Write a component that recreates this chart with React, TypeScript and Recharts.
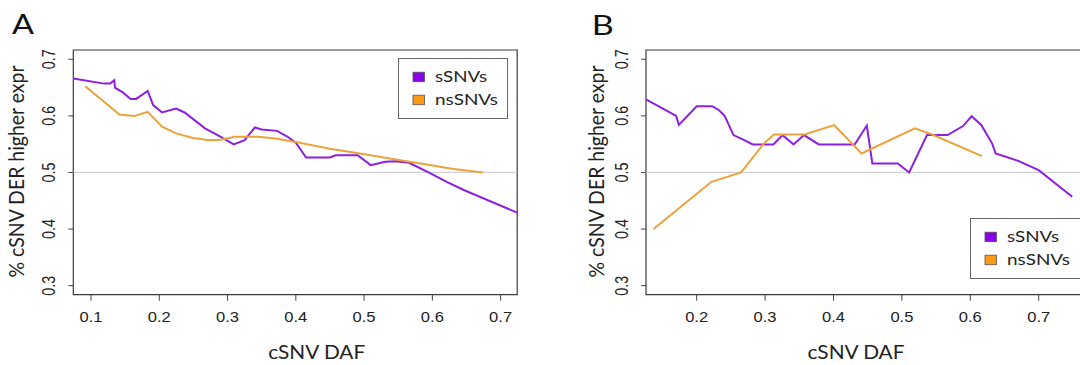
import React from 'react';
import { LineChart, Line, XAxis, YAxis, ReferenceLine, ReferenceArea, Legend } from 'recharts';

// Panel A data
const aSynX = [0.074, 0.119, 0.128, 0.134, 0.135, 0.147, 0.158, 0.166, 0.183, 0.191, 0.204, 0.2245, 0.237, 0.267, 0.29, 0.309, 0.325, 0.34, 0.35, 0.3725, 0.388, 0.4, 0.415, 0.45, 0.458, 0.4906, 0.5096, 0.531, 0.546, 0.566, 0.598, 0.621, 0.646, 0.7243];
const aSynY = [0.666, 0.657, 0.657, 0.663, 0.65, 0.641, 0.63, 0.63, 0.644, 0.619, 0.606, 0.613, 0.606, 0.578, 0.563, 0.5495, 0.557, 0.5795, 0.576, 0.5735, 0.563, 0.5525, 0.5265, 0.5265, 0.5305, 0.5305, 0.513, 0.519, 0.52, 0.517, 0.498, 0.4835, 0.469, 0.429];
const aNonX = [0.0915, 0.1417, 0.164, 0.183, 0.204, 0.2245, 0.2496, 0.2737, 0.29, 0.31, 0.345, 0.37, 0.4, 0.45, 0.5006, 0.551, 0.596, 0.631, 0.674];
const aNonY = [0.6525, 0.6025, 0.6, 0.607, 0.581, 0.569, 0.561, 0.557, 0.558, 0.563, 0.563, 0.56, 0.554, 0.542, 0.532, 0.522, 0.513, 0.506, 0.5];

// Panel B data
const bSynX = [0.1259, 0.17, 0.174, 0.2, 0.2226, 0.2327, 0.241, 0.2538, 0.268, 0.282, 0.312, 0.3256, 0.3417, 0.3568, 0.3784, 0.431, 0.4487, 0.4568, 0.494, 0.5106, 0.5367, 0.5668, 0.5894, 0.602, 0.616, 0.632, 0.637, 0.67, 0.7, 0.749];
const bSynY = [0.629, 0.6, 0.584, 0.617, 0.617, 0.61, 0.5995, 0.566, 0.558, 0.5495, 0.5495, 0.566, 0.5495, 0.566, 0.5495, 0.5495, 0.583, 0.516, 0.516, 0.5, 0.566, 0.566, 0.582, 0.5995, 0.584, 0.551, 0.5335, 0.5205, 0.504, 0.457];
const bNonX = [0.137, 0.2216, 0.265, 0.298, 0.313, 0.358, 0.401, 0.441, 0.519, 0.544, 0.617];
const bNonY = [0.4, 0.4835, 0.5, 0.551, 0.567, 0.567, 0.5836, 0.5335, 0.578, 0.567, 0.529];

const xTicksA = [0.1, 0.2, 0.3, 0.4, 0.5, 0.6, 0.7];
const xTicksB = [0.2, 0.3, 0.4, 0.5, 0.6, 0.7];
const yTicks = [0.3, 0.4, 0.5, 0.6, 0.7];
const xDomainA = [0.074, 0.7243];
const xDomainB = [0.1259, 0.775];
const yDomain = [0.284, 0.7164];
const refValue = 0.5;

const seriesNames = ['sSNVs', 'nsSNVs'];
const legendTextLen = [52, 63];
const lineColors = ['#8E1FDF', '#ECA23A'];
const swatchColors = ['#8A00E8', '#FF9A14'];
const xTitle = 'cSNV DAF';
const yTitle = '% cSNV DER higher expr';

const zip = (xs: number[], ys: number[]) => xs.map((x, i) => ({ x, y: ys[i] }));

const TICK_FONT = '"Liberation Sans", Arial, sans-serif';
const TITLE_FONT = 'Lato, "Open Sans", sans-serif';

const XTick = (props: any) => {
  const { x, y, payload } = props;
  return (
    <text x={x} y={y} dy="0.71em" textAnchor="middle" fontFamily={TICK_FONT} fontSize={15} fill="#222"
      textLength={23} lengthAdjust="spacingAndGlyphs">
      {payload.value.toFixed(1)}
    </text>
  );
};

const YTick = (props: any) => {
  const { x, y, payload } = props;
  return (
    <text x={0} y={0} transform={`translate(${x}, ${y}) rotate(-90) scale(1, 1.2)`} textAnchor="middle"
      fontFamily={TICK_FONT} fontSize={15} fill="#222" textLength={20} lengthAdjust="spacingAndGlyphs">
      {payload.value.toFixed(1)}
    </text>
  );
};

const LegendBox = (props: any) => {
  const { w } = props;
  return (
    <svg width={w} height={62} style={{ display: 'block', overflow: 'visible' }}>
      <rect x={0.5} y={0.5} width={w - 1} height={60} fill="#fff" stroke="#666" strokeWidth={1} />
      {seriesNames.map((name, i) => {
        const cy = 18.7 + i * 23;
        return (
          <g key={name}>
            <rect x={15} y={cy - 4.5} width={11.5} height={9.5} fill={swatchColors[i]} stroke="#555" strokeWidth={0.8} />
            <text x={37} y={cy + 5.2} fontFamily={TITLE_FONT} fontSize={14.5} fill="#222"
              textLength={legendTextLen[i]} lengthAdjust="spacingAndGlyphs">{name}</text>
          </g>
        );
      })}
    </svg>
  );
};

type PanelProps = {
  width: number;
  yAxisWidth: number;
  rightMargin: number;
  xDomain: number[];
  xTicks: number[];
  syn: { x: number; y: number }[];
  non: { x: number; y: number }[];
  letter: string;
  letterX: number;
  letterY: number;
  yTitleX: number;
  xTitleX: number;
  legendLeft: number;
  legendTop: number;
  legendWidth: number;
};

const Panel = (p: PanelProps) => (
  <LineChart width={p.width} height={365} margin={{ top: 50, right: p.rightMargin, bottom: 0, left: 0 }}>
    <XAxis type="number" dataKey="x" domain={p.xDomain} ticks={p.xTicks} allowDataOverflow
      height={70.3} tickSize={6} tickMargin={11} axisLine={false} tickLine={{ stroke: '#444' }}
      tick={XTick} interval={0} />
    <YAxis type="number" dataKey="y" domain={yDomain} ticks={yTicks} allowDataOverflow
      width={p.yAxisWidth} tickSize={5} tickMargin={13} axisLine={false} tickLine={{ stroke: '#444' }}
      tick={YTick} interval={0} />
    <ReferenceLine y={refValue} stroke="#d2d2d2" strokeWidth={1.3} ifOverflow="hidden" />
    <Line type="linear" data={p.syn} dataKey="y" name={seriesNames[0]} stroke={lineColors[0]} strokeWidth={2}
      dot={false} isAnimationActive={false} />
    <Line type="linear" data={p.non} dataKey="y" name={seriesNames[1]} stroke={lineColors[1]} strokeWidth={2}
      dot={false} isAnimationActive={false} />
    <ReferenceArea x1={p.xDomain[0]} x2={p.xDomain[1]} y1={yDomain[0]} y2={yDomain[1]} fill="none"
      fillOpacity={0} stroke="#3a3a3a" strokeWidth={1.2} ifOverflow="visible" />
    <Legend layout="horizontal" verticalAlign="middle" align="center"
      wrapperStyle={{ left: p.legendLeft, top: p.legendTop, width: p.legendWidth, height: 62, margin: 0, padding: 0 }}
      content={() => <LegendBox w={p.legendWidth} />} />
    <text x={p.letterX} y={p.letterY} fontFamily={TITLE_FONT} fontSize={27} fill="#111" textLength={22}
      lengthAdjust="spacingAndGlyphs">{p.letter}</text>
    <text x={p.xTitleX} y={358.5} textAnchor="middle" fontFamily={TITLE_FONT} fontSize={20} fill="#222"
      textLength={97} lengthAdjust="spacingAndGlyphs">{xTitle}</text>
    <text x={0} y={0} transform={`translate(${p.yTitleX}, 171.5) rotate(-90) scale(1, 1.08)`} textAnchor="middle"
      fontFamily={TITLE_FONT} fontSize={19} fill="#222" textLength={212} lengthAdjust="spacingAndGlyphs">{yTitle}</text>
  </LineChart>
);

export default function App() {
  return (
    <div style={{ position: 'absolute', left: 0, top: 0, width: 1080, height: 365, overflow: 'hidden', background: '#fff' }}>
      <div style={{ position: 'absolute', left: 0, top: 0 }}>
        <Panel width={540} yAxisWidth={73.3} rightMargin={22.8} xDomain={xDomainA} xTicks={xTicksA}
          syn={zip(aSynX, aSynY)} non={zip(aNonX, aNonY)} letter="A" letterX={12} letterY={34}
          yTitleX={23.5} xTitleX={316.7} legendLeft={398.3} legendTop={58.3} legendWidth={110} />
      </div>
      <div style={{ position: 'absolute', left: 540, top: 0 }}>
        <Panel width={560} yAxisWidth={106} rightMargin={10} xDomain={xDomainB} xTicks={xTicksB}
          syn={zip(bSynX, bSynY)} non={zip(bNonX, bNonY)} letter="B" letterX={51.7} letterY={35}
          yTitleX={64} xTitleX={316} legendLeft={430} legendTop={218.3} legendWidth={130} />
      </div>
    </div>
  );
}
